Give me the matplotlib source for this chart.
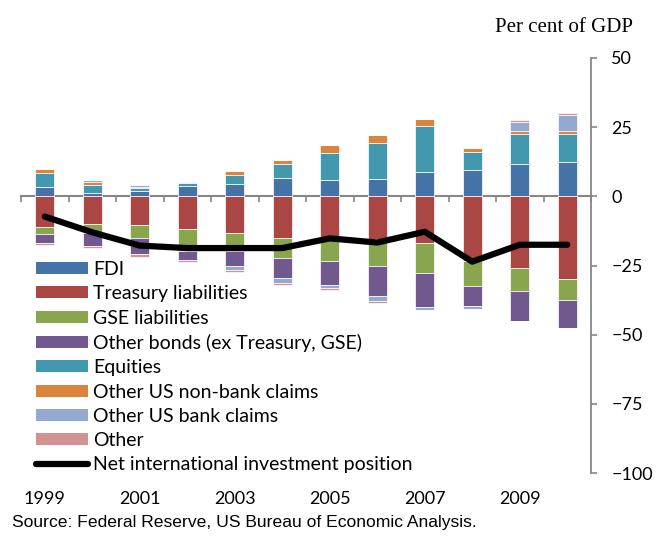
import numpy as np
import matplotlib
matplotlib.use('Agg')
import matplotlib.pyplot as plt
from matplotlib.patches import Patch
from matplotlib.lines import Line2D

plt.rcParams['font.family'] = ['Lato', 'DejaVu Sans']

# data, per cent of GDP
years = [1999, 2000, 2001, 2002, 2003, 2004, 2005, 2006, 2007, 2008, 2009, 2010]
fdi = [3.5, 1.2, 1.8, 3.7, 4.4, 6.6, 6.0, 6.2, 8.9, 9.6, 11.7, 12.5]
treasury = [-11.0, -10.1, -10.4, -11.9, -13.3, -14.9, -14.6, -15.5, -16.7, -23.5, -25.9, -29.9]
gse = [-2.5, -3.0, -4.8, -7.9, -6.4, -7.5, -8.9, -9.6, -11.1, -8.8, -8.4, -7.4]
other_bonds = [-3.2, -4.9, -5.5, -3.2, -5.4, -7.2, -8.6, -11.0, -12.2, -7.3, -10.9, -10.2]
equities = [5.0, 3.0, 1.1, 1.2, 3.3, 5.0, 9.6, 13.1, 16.5, 6.3, 10.8, 10.0]
nonbank = [1.5, 1.1, 0.6, 0.0, 1.3, 1.6, 2.9, 3.0, 2.7, 1.4, 1.0, 1.0]
bank = [0.0, 0.6, 0.7, 0.2, -1.6, -1.6, -1.2, -1.8, -1.0, -1.0, 3.5, 5.9]
other = [-0.8, -0.7, -1.1, -0.9, -0.6, -0.7, -0.6, -0.6, 0.0, 0.0, 0.6, 0.9]
niip = [-7.3, -13.0, -17.8, -18.7, -18.7, -18.7, -15.2, -16.7, -12.8, -23.6, -17.5, -17.5]

series = [
    ('FDI', fdi, '#4572A7'),
    ('Treasury liabilities', treasury, '#AA4643'),
    ('GSE liabilities', gse, '#89A54E'),
    ('Other bonds (ex Treasury, GSE)', other_bonds, '#71588F'),
    ('Equities', equities, '#4198AF'),
    ('Other US non-bank claims', nonbank, '#DB843D'),
    ('Other US bank claims', bank, '#93A9CF'),
    ('Other', other, '#D19392'),
]
line_label = 'Net international investment position'
grey = '#868686'

fig = plt.figure(figsize=(6.58, 5.37), dpi=100)
ax = fig.add_axes([21 / 658, 1 - 473 / 537, 570 / 658, 415 / 537])

x = np.arange(len(years))
pos_base = np.zeros(len(years))
neg_base = np.zeros(len(years))
for label, vals, color in series:
    v = np.array(vals)
    p = np.where(v > 0, v, 0)
    q = np.where(v < 0, v, 0)
    ax.bar(x, p, 0.4, bottom=pos_base, color=color, edgecolor='white', linewidth=0.5, zorder=2)
    ax.bar(x, q, 0.4, bottom=neg_base, color=color, edgecolor='white', linewidth=0.5, zorder=2)
    pos_base += p
    neg_base += q

ax.plot(x, niip, color='black', lw=4.5, solid_capstyle='round', zorder=5)

ax.set_xlim(-0.5, len(years) - 0.5)
ax.set_ylim(-100, 50)

# right hand value axis
ax.yaxis.tick_right()
ax.set_yticks([50, 25, 0, -25, -50, -75, -100])
ax.tick_params(axis='y', direction='out', length=4.5, width=1.2, color=grey,
               pad=10, labelsize=13)
for s in ['top', 'left', 'bottom']:
    ax.spines[s].set_visible(False)
ax.spines['right'].set_color(grey)
ax.spines['right'].set_linewidth(1.3)

# year labels along the bottom
ax.set_xticks(x[::2], [str(y) for y in years[::2]])
ax.tick_params(axis='x', length=0, pad=13, labelsize=13)

# zero line with category separators
sec = ax.secondary_xaxis(0, transform=ax.transData)
sec.set_xticks(np.arange(len(years) + 1) - 0.5)
sec.tick_params(axis='x', direction='out', length=4.5, width=1.2, color=grey,
                labelbottom=False)
sec.spines['bottom'].set_color(grey)
sec.spines['bottom'].set_linewidth(1.5)

handles = [Patch(facecolor=c, edgecolor='none') for _, _, c in series]
handles.append(Line2D([0], [0], color='black', lw=4.5, solid_capstyle='round'))
labels = [l for l, _, _ in series] + [line_label]
ax.legend(handles, labels, loc='upper left', bbox_to_anchor=(36 / 658, 1 - 261 / 537),
          bbox_transform=fig.transFigure, frameon=False, fontsize=14,
          handlelength=2.67, handleheight=0.57, handletextpad=0.26,
          labelspacing=0.375, borderpad=0, borderaxespad=0)

fig.text(633 / 658, 1 - 28 / 537, 'Per cent of GDP', ha='right', va='center',
         family='Liberation Serif', fontsize=15)
fig.text(12 / 658, 1 - 522 / 537, 'Source: Federal Reserve, US Bureau of Economic Analysis.',
         ha='left', va='center', family='Liberation Sans', fontsize=12.6)

fig.savefig('out.png', dpi=100)
